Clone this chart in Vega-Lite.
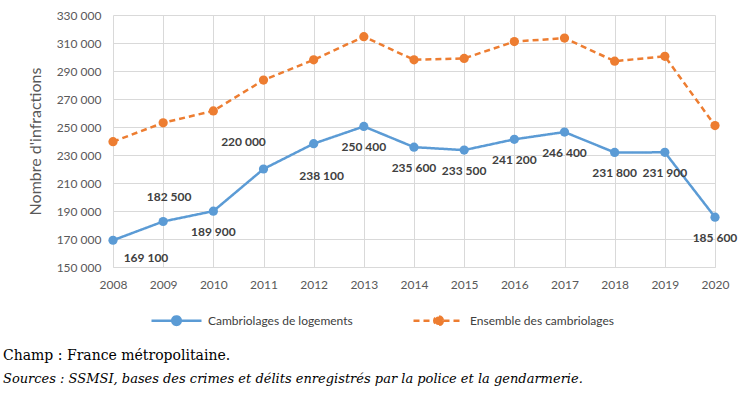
{
  "$schema": "https://vega.github.io/schema/vega-lite/v6.json",
  "width": 602,
  "height": 252,
  "autosize": {"type": "none"},
  "padding": {"left": 113, "top": 15, "right": 35, "bottom": 128},
  "background": "white",
  "title": {
    "text": "Champ : France métropolitaine.",
    "subtitle": "Sources : SSMSI, bases des crimes et délits enregistrés par la police et la gendarmerie.",
    "orient": "bottom",
    "anchor": "start",
    "frame": "group",
    "dx": -110,
    "offset": 19,
    "font": "DejaVu Serif",
    "fontSize": 14,
    "fontWeight": "normal",
    "color": "#000000",
    "subtitleFont": "DejaVu Serif",
    "subtitleFontSize": 13,
    "subtitleFontStyle": "italic",
    "subtitleColor": "#000000",
    "subtitlePadding": 10
  },
  "data": {
    "values": [
      {"year": 2008, "series": "Cambriolages de logements", "value": 169100},
      {"year": 2009, "series": "Cambriolages de logements", "value": 182500},
      {"year": 2010, "series": "Cambriolages de logements", "value": 189900},
      {"year": 2011, "series": "Cambriolages de logements", "value": 220000},
      {"year": 2012, "series": "Cambriolages de logements", "value": 238100},
      {"year": 2013, "series": "Cambriolages de logements", "value": 250400},
      {"year": 2014, "series": "Cambriolages de logements", "value": 235600},
      {"year": 2015, "series": "Cambriolages de logements", "value": 233500},
      {"year": 2016, "series": "Cambriolages de logements", "value": 241200},
      {"year": 2017, "series": "Cambriolages de logements", "value": 246400},
      {"year": 2018, "series": "Cambriolages de logements", "value": 231800},
      {"year": 2019, "series": "Cambriolages de logements", "value": 231900},
      {"year": 2020, "series": "Cambriolages de logements", "value": 185600},
      {"year": 2008, "series": "Ensemble des cambriolages", "value": 239500},
      {"year": 2009, "series": "Ensemble des cambriolages", "value": 253000},
      {"year": 2010, "series": "Ensemble des cambriolages", "value": 261500},
      {"year": 2011, "series": "Ensemble des cambriolages", "value": 283500},
      {"year": 2012, "series": "Ensemble des cambriolages", "value": 298000},
      {"year": 2013, "series": "Ensemble des cambriolages", "value": 314500},
      {"year": 2014, "series": "Ensemble des cambriolages", "value": 298000},
      {"year": 2015, "series": "Ensemble des cambriolages", "value": 299000},
      {"year": 2016, "series": "Ensemble des cambriolages", "value": 311000},
      {"year": 2017, "series": "Ensemble des cambriolages", "value": 313500},
      {"year": 2018, "series": "Ensemble des cambriolages", "value": 297000},
      {"year": 2019, "series": "Ensemble des cambriolages", "value": 300500},
      {"year": 2020, "series": "Ensemble des cambriolages", "value": 251000}
    ]
  },
  "transform": [
    {"calculate": "replace(format(datum.value, ','), ',', ' ')", "as": "label"}
  ],
  "encoding": {
    "x": {
      "field": "year",
      "type": "ordinal",
      "scale": {"type": "point", "padding": 0},
      "axis": {
        "title": null,
        "labelAngle": 0,
        "grid": true,
        "gridColor": "#d9d9d9",
        "domainColor": "#d9d9d9",
        "ticks": false,
        "labelPadding": 12,
        "labelFont": "Lato",
        "labelFontSize": 12,
        "labelColor": "#595959"
      }
    },
    "y": {
      "field": "value",
      "type": "quantitative",
      "scale": {"domain": [150000, 330000], "nice": false, "zero": false},
      "axis": {
        "values": [150000, 170000, 190000, 210000, 230000, 250000, 270000, 290000, 310000, 330000],
        "labelExpr": "replace(format(datum.value, ','), ',', ' ')",
        "grid": true,
        "gridColor": "#d9d9d9",
        "domain": false,
        "ticks": false,
        "labelPadding": 12,
        "labelFont": "Lato",
        "labelFontSize": 12,
        "labelColor": "#595959",
        "title": "Nombre d'infractions",
        "titleFont": "Lato",
        "titleFontSize": 16,
        "titleFontWeight": "normal",
        "titleColor": "#595959",
        "titlePadding": 13
      }
    }
  },
  "layer": [
    {
      "mark": {"type": "line", "strokeWidth": 2.5, "point": {"filled": true, "size": 85, "opacity": 1}},
      "encoding": {
        "color": {
          "field": "series",
          "type": "nominal",
          "scale": {"domain": ["Cambriolages de logements", "Ensemble des cambriolages"], "range": ["#5B9BD5", "#ED7D31"]},
          "legend": {
            "title": null,
            "orient": "none",
            "legendX": 37,
            "legendY": 279,
            "direction": "horizontal",
            "symbolType": "M-1,0H1M0.17,0A0.17,0.17 0 1,1 -0.17,0A0.17,0.17 0 1,1 0.17,0",
            "symbolSize": 2500,
            "symbolStrokeWidth": 2.5,
            "labelFont": "Lato",
            "labelFontSize": 12,
            "labelColor": "#404040",
            "labelOffset": 5,
            "columnPadding": 55,
            "encode": {"symbols": {"update": {"fill": {"scale": "color", "field": "value"}, "fillOpacity": {"value": 1}, "opacity": {"value": 1}}}}
          }
        },
        "strokeDash": {
          "field": "series",
          "type": "nominal",
          "scale": {"domain": ["Cambriolages de logements", "Ensemble des cambriolages"], "range": [[1, 0], [6, 4]]},
          "legend": null
        }
      }
    },
    {
      "transform": [{"filter": "datum.series === 'Cambriolages de logements' && indexof([2008, 2009, 2011, 2012], datum.year) < 0"}],
      "mark": {"type": "text", "dy": 21, "font": "Lato", "fontSize": 12, "fontWeight": "bold", "color": "#404040"},
      "encoding": {"text": {"field": "label"}}
    },
    {
      "transform": [{"filter": "datum.series === 'Cambriolages de logements' && datum.year === 2008"}],
      "mark": {"type": "text", "dx": 33, "dy": 18, "font": "Lato", "fontSize": 12, "fontWeight": "bold", "color": "#404040"},
      "encoding": {"text": {"field": "label"}}
    },
    {
      "transform": [{"filter": "datum.series === 'Cambriolages de logements' && datum.year === 2009"}],
      "mark": {"type": "text", "dx": 6, "dy": -25, "font": "Lato", "fontSize": 12, "fontWeight": "bold", "color": "#404040"},
      "encoding": {"text": {"field": "label"}}
    },
    {
      "transform": [{"filter": "datum.series === 'Cambriolages de logements' && datum.year === 2011"}],
      "mark": {"type": "text", "dx": -20, "dy": -27, "font": "Lato", "fontSize": 12, "fontWeight": "bold", "color": "#404040"},
      "encoding": {"text": {"field": "label"}}
    },
    {
      "transform": [{"filter": "datum.series === 'Cambriolages de logements' && datum.year === 2012"}],
      "mark": {"type": "text", "dx": 8, "dy": 32, "font": "Lato", "fontSize": 12, "fontWeight": "bold", "color": "#404040"},
      "encoding": {"text": {"field": "label"}}
    }
  ],
  "config": {
    "view": {"stroke": null}
  }
}
